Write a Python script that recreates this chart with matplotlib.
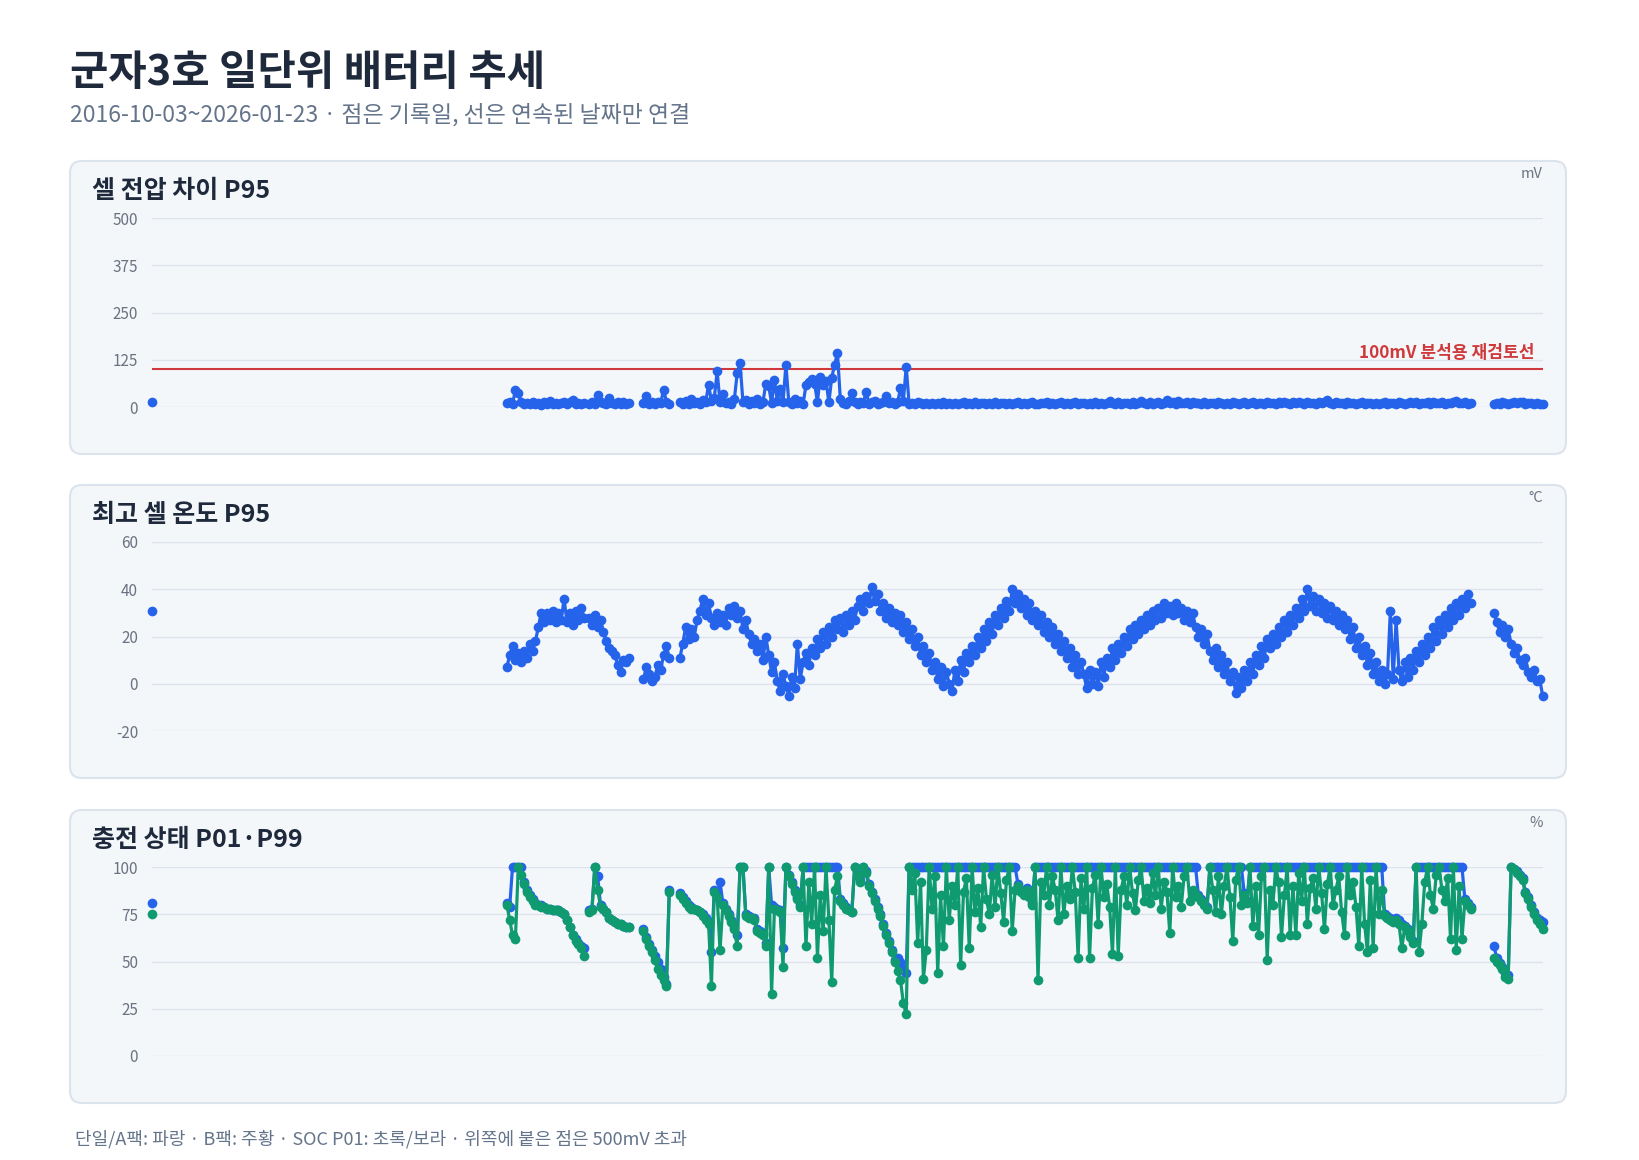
import matplotlib
matplotlib.use('Agg')
import matplotlib.pyplot as plt
from matplotlib.patches import FancyBboxPatch
from matplotlib.transforms import IdentityTransform
import pandas as pd

plt.rcParams['font.family'] = ['Noto Sans CJK KR', 'DejaVu Sans']
plt.rcParams['axes.unicode_minus'] = False

# record segments: each one is a run of records, one value per week
seg_starts = ['2016-10-03', '2019-02-17', '2019-09-06', '2020-01-17', '2020-04-15', '2025-09-25']

volt = [
    [13],
    [10, 14, 8, 45, 38, 12, 9, 11, 7, 13, 8, 10, 6, 12, 9, 15, 8, 11, 7, 10, 13, 8, 12, 18, 9, 11, 7, 10],
    [9, 12, 8, 33, 14, 10, 7, 24, 11, 8, 13, 9, 12, 7, 10],
    [11, 28, 9, 13, 8, 12, 10, 46, 14, 9],
    [12, 9, 15, 8, 22, 11, 14, 9, 18, 13, 59,
     16, 24, 94, 12, 35, 10, 14, 9, 20, 90, 116, 13, 18,
     9, 15, 11, 22, 8, 14, 62, 55, 10, 72, 16, 48, 12,
     112, 14, 9, 21, 11, 16, 8, 58, 66, 75, 62, 14, 80,
     57, 69, 12, 78, 112, 143, 20, 11, 9, 15, 37, 12, 8,
     13, 10, 41, 9, 12, 15, 8, 11, 14, 28, 10, 13, 9,
     12, 50, 16, 107, 9, 11, 8, 12, 10, 7, 11, 9, 10,
     8, 11, 9, 12, 7, 10, 9, 11, 8, 10, 12, 9, 11,
     9, 12, 8, 10, 11, 7, 10, 9, 12, 8, 11, 10, 9,
     11, 8, 10, 13, 9, 11, 7, 10, 12, 9, 8, 11, 10,
     12, 9, 11, 8, 10, 14, 9, 11, 8, 10, 12, 9, 11,
     10, 8, 11, 9, 12, 7, 10, 9, 11, 15, 10, 8, 12,
     9, 11, 10, 8, 12, 9, 11, 16, 10, 9, 12, 8, 11,
     14, 9, 11, 18, 10, 12, 9, 15, 11, 10, 13, 9, 12,
     10, 11, 9, 12, 8, 10, 11, 9, 12, 10, 8, 11, 9,
     12, 10, 9, 11, 13, 9, 10, 12, 8, 11, 10, 9, 12,
     10, 11, 9, 12, 10, 14, 11, 9, 12, 10, 13, 11, 9,
     12, 10, 11, 9, 13, 10, 12, 18, 11, 9, 12, 10, 11,
     9, 12, 10, 11, 8, 10, 12, 9, 11, 10, 8, 11, 9,
     10, 12, 9, 11, 10, 8, 12, 10, 9, 11, 13, 10, 12,
     9, 11, 10, 12, 9, 14, 11, 10, 12, 9, 11, 10, 12,
     16, 11, 10, 13, 9, 11],
    [9, 11, 8, 12, 10, 9, 11, 13, 10, 14, 12, 9, 11, 10, 8, 10, 9, 8],
]

temp = [
    [31],
    [7, 12, 16, 10, 13, 9, 14, 11, 17, 14, 18, 24, 30, 26, 30, 27, 31, 26, 30, 27, 36, 26, 30, 25, 31, 27, 32, 28],
    [28, 25, 29, 24, 27, 22, 18, 15, 14, 12, 8, 5, 10, 9, 11],
    [2, 7, 4, 1, 3, 8, 6, 12, 16, 11],
    [11, 17, 24, 19, 23, 20, 27, 31, 36, 29, 34,
     28, 25, 30, 26, 29, 25, 32, 29, 33, 28, 31, 23, 27,
     21, 17, 19, 14, 17, 10, 20, 12, 5, 9, 1, -3, 4,
     -1, -5, 3, -2, 17, 2, 9, 13, 8, 15, 12, 19, 15,
     22, 17, 24, 20, 27, 23, 28, 22, 29, 25, 31, 27, 33,
     36, 31, 37, 34, 41, 35, 38, 31, 34, 28, 32, 26, 30,
     25, 29, 22, 26, 19, 23, 16, 20, 12, 16, 9, 13, 6,
     9, 2, 7, -1, 5, 0, -3, 6, 1, 10, 5, 13, 9,
     16, 12, 20, 15, 23, 18, 26, 21, 29, 25, 32, 28, 35,
     31, 40, 34, 38, 32, 36, 29, 34, 27, 31, 25, 29, 22,
     26, 20, 24, 17, 21, 14, 18, 11, 15, 7, 12, 4, 9,
     4, -2, 6, 0, 5, -1, 9, 3, 11, 7, 15, 10, 17,
     13, 20, 16, 23, 19, 25, 21, 27, 23, 29, 25, 31, 27,
     32, 28, 34, 30, 33, 29, 34, 30, 32, 27, 31, 26, 30,
     24, 20, 23, 17, 21, 14, 10, 15, 7, 12, 4, 9, 1,
     5, -4, 3, -2, 6, 1, 9, 4, 12, 8, 16, 11, 19,
     15, 21, 17, 24, 20, 27, 22, 29, 25, 32, 28, 36, 31,
     40, 33, 37, 31, 36, 30, 34, 28, 33, 27, 31, 25, 29,
     23, 27, 19, 24, 15, 20, 12, 16, 8, 13, 4, 9, 1,
     6, 0, 4, 31, 2, 27, 6, 1, 9, 3, 11, 6, 14,
     9, 17, 12, 20, 15, 24, 18, 27, 21, 29, 24, 32, 27,
     34, 29, 36, 32, 38, 34],
    [30, 26, 22, 25, 20, 23, 17, 13, 15, 10, 8, 11, 5, 3, 6, 1, 2, -5],
]

soc_p99 = [
    [81],
    [81, 79, 100, 100, 100, 100, 92, 88, 85, 83, 81, 80, 80, 79, 78, 78, 77, 77, 77, 76, 75, 72, 68, 64, 62, 60, 58, 57],
    [77, 78, 100, 95, 80, 78, 76, 73, 72, 71, 70, 70, 69, 68, 68],
    [67, 63, 59, 56, 53, 50, 46, 42, 38, 88],
    [86, 84, 82, 80, 79, 78, 77, 76, 75, 73, 71, 55, 88, 86, 92, 81, 78, 75, 72, 68,
     64, 100, 100, 75, 74, 73, 73, 67, 66, 65, 60, 100, 80, 79, 78, 77, 57, 100, 96, 92,
     88, 84, 80, 100,
     100, 100, 100, 100, 100, 100, 100, 100, 100, 100, 100, 100,
     83, 81, 79, 77, 76,
     100, 96, 93, 100, 98, 91, 87, 83, 79, 75, 70, 65, 61, 56, 51, 52, 50, 46, 44,
     100, 100, 100, 100, 100, 100, 100, 100, 100, 100,
     100, 100, 100, 100, 100, 100, 100, 100, 100, 100,
     100, 100, 100, 100, 100, 100, 100, 100, 100, 100,
     100, 100, 100, 100, 100, 100, 100, 100,
     91, 88, 86, 89, 85, 81,
     100, 100, 100, 100, 100, 100, 100, 100, 100, 100,
     100, 100, 100, 100, 100, 100, 100, 100, 100, 100,
     100, 100, 100, 100, 100, 100, 100, 100, 100, 100,
     100, 100, 100, 100, 100, 100, 100, 100, 100, 100,
     100, 100, 100, 100, 100, 100, 100, 100, 100, 100,
     100, 100, 100, 100, 100, 100, 100,
     85, 83, 81, 79,
     100, 100, 100, 100, 100, 100, 100, 100, 100, 100, 100, 100,
     86, 82,
     100, 100, 100, 100, 100, 100, 100, 100, 100, 100,
     100, 100, 100, 100, 100, 100, 100, 100, 100, 100,
     100, 100, 100, 100, 100, 100, 100, 100, 100, 100,
     100, 100, 100, 100, 100, 100, 100, 100, 100, 100,
     100, 100, 100, 100, 100, 100, 100,
     75, 74, 73, 72, 73, 72, 70, 69, 67, 64, 61,
     100, 100, 100, 100, 100, 100, 100, 100, 100, 100,
     100, 100, 100, 100, 100, 100, 100,
     83, 81, 79],
    [58, 52, 49, 47, 44, 43, 100, 99, 98, 96, 94, 87, 84, 80, 76, 73, 72, 71],
]

soc_p01 = [
    [75],
    [80, 72, 64, 62, 100, 96, 91, 87, 84, 82, 80, 80, 79, 79, 78, 78, 77, 77, 77, 76, 75, 72, 68, 64, 61, 59, 57, 53],
    [76, 77, 100, 88, 79, 78, 76, 73, 72, 71, 70, 70, 69, 68, 68],
    [66, 62, 58, 55, 51, 46, 43, 40, 37, 87],
    [85, 83, 81, 79, 78, 78, 77, 76, 74, 72, 70, 37, 87, 84, 56, 80, 77, 74, 71, 67,
     58, 100, 100, 74, 73, 73, 72, 66, 65, 64, 58, 100, 33, 78, 77, 76, 47, 100, 95, 91,
     87, 83, 79, 100,
     58, 92, 70, 100, 52, 85, 66, 100, 72, 39, 88, 95,
     82, 80, 78, 77, 76,
     100, 95, 92, 100, 97, 90, 86, 82, 78, 74, 69, 64, 60, 55, 50, 45, 40, 28, 22,
     100, 88, 97, 60, 92, 41, 56, 100, 78, 95, 44, 85, 58, 100, 72, 90, 80, 100, 48, 87,
     94, 57, 100, 76, 89, 68, 100, 83, 75, 96, 79, 100, 86, 71, 93, 100, 66, 88,
     90, 87, 85, 88, 84, 80,
     100, 40, 92, 85, 100, 80, 95, 88, 72, 100, 75, 90, 83, 100, 87, 52, 94, 78, 100, 52,
     89, 96, 70, 100, 84, 91, 79, 54, 100, 53, 88, 95, 80, 100, 86, 77, 93, 100, 82, 89,
     81, 97, 85, 100, 78, 92, 87, 65, 100, 84, 90, 79, 95, 100, 82, 88, 85,
     84, 82, 80, 78, 100, 88, 76, 95, 75, 90, 100, 84, 61, 93, 100, 80,
     85, 81,
     100, 69, 90, 64, 95, 100, 51, 88, 80, 100, 92, 63, 85, 100, 64, 90, 64, 97, 82, 100,
     70, 89, 94, 78, 100, 86, 67, 91, 100, 80, 88, 95, 76, 64, 100, 85, 92, 79, 58, 100,
     70, 55, 93, 57, 100, 75, 88,
     74, 73, 72, 71, 72, 70, 57, 68, 66, 63, 60,
     100, 55, 70, 92, 100, 85, 78, 96, 100, 88, 82, 94, 62, 100, 56, 90, 62,
     82, 80, 78],
    [52, 50, 48, 46, 42, 41, 100, 99, 97, 95, 93, 86, 83, 79, 75, 72, 70, 67],
]

title = '군자3호 일단위 배터리 추세'
subtitle = '2016-10-03~2026-01-23 · 점은 기록일, 선은 연속된 날짜만 연결'
footer = '단일/A팩: 파랑 · B팩: 주황 · SOC P01: 초록/보라 · 위쪽에 붙은 점은 500mV 초과'
panel_titles = ['셀 전압 차이 P95', '최고 셀 온도 P95', '충전 상태 P01·P99']
panel_units = ['mV', '°C', '%']
panel_ticks = [[0, 125, 250, 375, 500], [-20, 0, 20, 40, 60], [0, 25, 50, 75, 100]]
threshold = 100
threshold_label = '100mV 분석용 재검토선'

BLUE = '#2563eb'
GREEN = '#0f9b6f'
RED = '#d0393b'
W, H = 1640, 1160

fig = plt.figure(figsize=(W / 100, H / 100), dpi=100)
fig.patch.set_facecolor('white')

fig.text(70 / W, 1 - 73 / H, title, fontsize=30, fontweight='bold', color='#1e293b', va='center')
fig.text(70 / W, 1 - 115 / H, subtitle, fontsize=16.5, color='#64748b', va='center')
fig.text(75 / W, 1 - 1139 / H, footer, fontsize=13, color='#64748b', va='center')

x0, x1 = pd.Timestamp('2016-10-03'), pd.Timestamp('2026-01-23')


def draw(ax, series, color):
    for start, vals in zip(seg_starts, series):
        dates = pd.date_range(start, periods=len(vals), freq='7D')
        ax.plot(dates, vals, '-o', color=color, lw=2.3, ms=7, mew=0, clip_on=False, zorder=3)


tops = [161, 485, 810]
axes = []
for i, top in enumerate(tops):
    box = FancyBboxPatch((70, H - top - 293), 1496, 293,
                         boxstyle='round,pad=0,rounding_size=12',
                         facecolor='#f4f7fa', edgecolor='#dbe3ec', lw=1.5,
                         transform=IdentityTransform(), zorder=-10)
    fig.add_artist(box)
    fig.text(92 / W, 1 - (top + 30) / H, panel_titles[i], fontsize=18, fontweight='bold',
             color='#1e293b', va='center')
    fig.text(1543 / W, 1 - (top + 13) / H, panel_units[i], fontsize=10.5, color='#6b7280',
             va='center', ha='right')

    ax = fig.add_axes([152 / W, 1 - (top + 246) / H, (1543 - 152) / W, 189 / H])
    ax.set_facecolor('none')
    for s in ax.spines.values():
        s.set_visible(False)
    ticks = panel_ticks[i]
    ax.set_ylim(ticks[0], ticks[-1])
    ax.set_yticks(ticks)
    ax.set_xlim(x0, x1)
    ax.set_xticks([])
    ax.yaxis.grid(True, color='#dde3ec', lw=1)
    ax.set_axisbelow(True)
    ax.tick_params(axis='y', length=0, pad=10, labelsize=11, labelcolor='#6b7280')
    axes.append(ax)

axes[0].axhline(threshold, color=RED, lw=1.5, zorder=2)
axes[0].text(1535 / W, 1 - 362 / H, threshold_label, transform=fig.transFigure,
             ha='right', va='bottom', fontsize=12.3, fontweight='bold', color=RED)

draw(axes[0], volt, BLUE)
draw(axes[1], temp, BLUE)
draw(axes[2], soc_p99, BLUE)
draw(axes[2], soc_p01, GREEN)

fig.savefig('out.png', dpi=100, facecolor='white')
